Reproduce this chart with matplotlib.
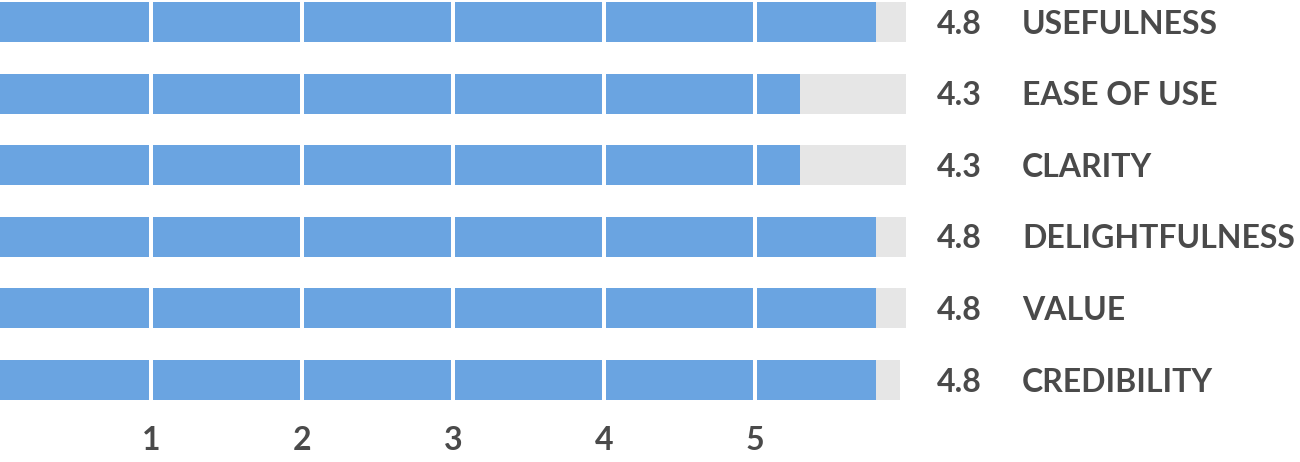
import matplotlib
matplotlib.use("Agg")
import matplotlib.pyplot as plt
import numpy as np

categories = ["USEFULNESS", "EASE OF USE", "CLARITY", "DELIGHTFULNESS", "VALUE", "CREDIBILITY"]
scores = [4.8, 4.3, 4.3, 4.8, 4.8, 4.8]
score_labels = ["4.8", "4.3", "4.3", "4.8", "4.8", "4.8"]
track_lengths = [6.0, 6.0, 6.0, 6.0, 6.0, 5.96]
tick_values = [1, 2, 3, 4, 5]
tick_labels = ["1", "2", "3", "4", "5"]

BLUE = "#6aa4e1"
TRACK = "#e6e6e6"
TEXT = "#4a4a4a"
FONT = "Lato"

W, H = 1300, 462
fig = plt.figure(figsize=(W / 100, H / 100), dpi=100)
# axes occupies x pixels 0..906, y pixels 0..405 (from top)
ax = fig.add_axes([0, 1 - 405 / H, 906 / W, 405 / H])

y = np.arange(len(categories))
row_px = 71.6
ax.set_xlim(0, 6)
ax.set_ylim((405 - 22) / row_px, -22 / row_px)

bar_h = 40 / row_px
ax.barh(y, track_lengths, height=bar_h, color=TRACK, left=0, zorder=1)
# the chart draws the fill on a 0-6 track with an offset of one unit
ax.barh(y, np.array(scores) + 1, height=bar_h, color=BLUE, left=0, zorder=2)

for t in tick_values:
    ax.axvline(t, color="white", lw=4 * 72 / 100, zorder=3)

for i, (sl, cat) in enumerate(zip(score_labels, categories)):
    ax.text(937 / 151, i + 0.03, sl, ha="left", va="center", fontsize=23, color=TEXT,
            family=FONT, fontweight="bold", clip_on=False)
    ax.text(1022 / 151, i + 0.03, cat, ha="left", va="center", fontsize=23, color=TEXT,
            family=FONT, fontweight="bold", clip_on=False)

ax.set_xticks(tick_values)
ax.set_xticklabels(tick_labels, fontsize=23, color=TEXT, family=FONT, fontweight="bold")
ax.tick_params(axis="x", length=0, pad=15)
ax.set_yticks([])
for s in ax.spines.values():
    s.set_visible(False)
ax.patch.set_alpha(0)

fig.savefig("out.png", dpi=100)
